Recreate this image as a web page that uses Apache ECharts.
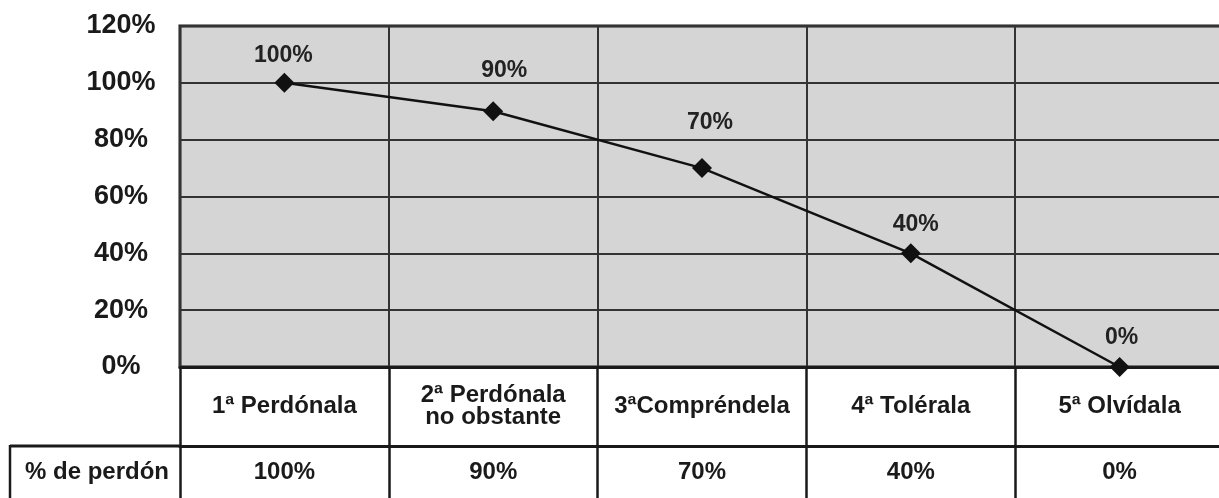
<!DOCTYPE html>
<html>
<head>
<meta charset="utf-8">
<title>% de perdón</title>
<script src="https://cdn.jsdelivr.net/npm/echarts@6/dist/echarts.min.js"></script>
<style>
  html, body { margin: 0; padding: 0; background: #fff; }
  #chart { width: 1219px; height: 498px; }
</style>
</head>
<body>
<div id="chart"></div>
<script>
// Steps of forgiveness and the share of forgiveness at each step
const categories = ['1ª Perdónala', '2ª Perdónala\nno obstante', '3ªCompréndela', '4ª Tolérala', '5ª Olvídala'];
const perdon = [100, 90, 70, 40, 0];
const rowTitle = '% de perdón';
const yTicks = { min: 0, max: 120, step: 20 };

const FONT = '"Liberation Sans", Arial, Helvetica, sans-serif';
const INK = '#1a1a1a';

// per-point label placement (distance above the marker, horizontal nudge)
const labelGap = [6, 19, 24, 7, 8];
const labelShift = [-1, 11, 8, 5, 2];

const chart = echarts.init(document.getElementById('chart'), null, { renderer: 'canvas' });

const option = {
  backgroundColor: '#ffffff',
  animation: false,
  grid: {
    left: 180, top: 26, width: 1044, height: 341,
    outerBoundsMode: 'none',
    containLabel: false,
    show: true, backgroundColor: '#d5d5d5',
    borderColor: INK, borderWidth: 3
  },
  xAxis: [
    {
      type: 'category',
      data: categories,
      boundaryGap: true,
      position: 'bottom',
      axisLine: { show: true, lineStyle: { color: INK, width: 3 } },
      axisTick: { show: true, interval: 0, length: 140, lineStyle: { color: INK, width: 2.5 } },
      splitLine: { show: true, interval: 0, lineStyle: { color: '#333', width: 2 } },
      axisLabel: {
        interval: 0, margin: 39, verticalAlign: 'middle',
        fontFamily: FONT, fontWeight: 'bold', fontSize: 24, lineHeight: 22, color: INK
      }
    },
    {
      type: 'category',
      data: perdon.map(v => v + '%'),
      boundaryGap: true,
      position: 'bottom',
      offset: 79,
      axisLine: { show: true, lineStyle: { color: INK, width: 3 } },
      axisTick: { show: false },
      splitLine: { show: false },
      axisLabel: {
        interval: 0, margin: 26, verticalAlign: 'middle',
        fontFamily: FONT, fontWeight: 'bold', fontSize: 24, color: INK
      }
    }
  ],
  yAxis: {
    type: 'value',
    min: yTicks.min, max: yTicks.max, interval: yTicks.step,
    axisLine: { show: false },
    axisTick: { show: false },
    splitLine: { show: true, lineStyle: { color: '#333', width: 2 } },
    axisLabel: {
      formatter: '{value}%', align: 'center', margin: 59,
      fontFamily: FONT, fontWeight: 'bold', fontSize: 27, color: INK
    }
  },
  series: [{
    type: 'line',
    xAxisIndex: 0,
    data: perdon.map((v, i) => ({
      value: v,
      label: { distance: labelGap[i], offset: [labelShift[i], 0] }
    })),
    symbol: 'diamond',
    symbolSize: 20,
    clip: false,
    lineStyle: { color: '#111', width: 2.5 },
    itemStyle: { color: '#111' },
    label: {
      show: true, position: 'top',
      formatter: '{c}%',
      fontFamily: FONT, fontWeight: 'bold', fontSize: 23, color: '#222'
    }
  }],
  graphic: [
    // row header cell of the value row
    { type: 'line', shape: { x1: 10, y1: 446, x2: 181, y2: 446 }, style: { stroke: INK, lineWidth: 3 } },
    { type: 'line', shape: { x1: 10, y1: 445, x2: 10, y2: 510 }, style: { stroke: INK, lineWidth: 2.5 } },
    {
      type: 'text', x: 97, y: 472,
      style: {
        text: rowTitle, align: 'center', verticalAlign: 'middle',
        font: 'bold 24px ' + FONT, fill: INK
      }
    }
  ]
};

chart.setOption(option);
</script>
</body>
</html>
